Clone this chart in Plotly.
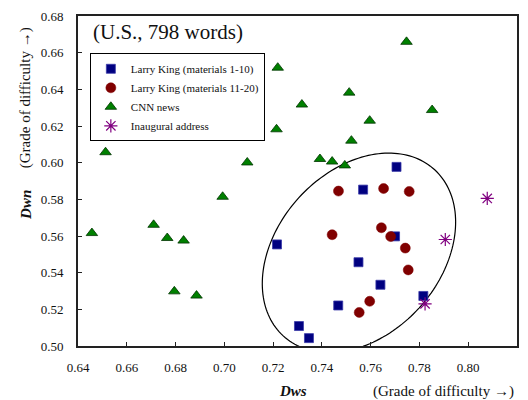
import numpy as np
import plotly.graph_objects as go

# ---------------- data ----------------
lk1_x = [0.7706, 0.7569, 0.7216, 0.7700, 0.7550, 0.7640, 0.7816, 0.7467, 0.7306, 0.7347]
lk1_y = [0.5977, 0.5853, 0.5554, 0.5598, 0.5457, 0.5334, 0.5273, 0.5221, 0.5109, 0.5043]

lk2_x = [0.7468, 0.7653, 0.7758, 0.7442, 0.7644, 0.7682, 0.7742, 0.7754, 0.7596, 0.7553]
lk2_y = [0.5845, 0.5859, 0.5843, 0.5607, 0.5645, 0.5597, 0.5534, 0.5415, 0.5244, 0.5183]

cnn_x = [0.6457, 0.6513, 0.6710, 0.6766, 0.6833, 0.6795, 0.6886, 0.6993, 0.7094, 0.7214,
         0.7219, 0.7747, 0.7512, 0.7318, 0.7852, 0.7596, 0.7521, 0.7392, 0.7442, 0.7494]
cnn_y = [0.5616, 0.6057, 0.5661, 0.5589, 0.5575, 0.5298, 0.5275, 0.5814, 0.6001, 0.6182,
         0.6518, 0.6659, 0.6382, 0.6317, 0.6287, 0.6229, 0.6120, 0.6020, 0.6006, 0.5985]

ina_x = [0.8078, 0.7906, 0.7823]
ina_y = [0.5805, 0.5581, 0.5230]

series_names = ["Larry King (materials 1-10)", "Larry King (materials 11-20)",
                "CNN news", "Inaugural address"]

x_ticks = [0.64, 0.66, 0.68, 0.70, 0.72, 0.74, 0.76, 0.78, 0.80, 0.82]
y_ticks = [0.50, 0.52, 0.54, 0.56, 0.58, 0.60, 0.62, 0.64, 0.66, 0.68]

# ellipse drawn around the Larry King group (data units)
ell_cx, ell_cy = 0.7552, 0.5508
ell_major = (0.0327, 0.0431)   # semi-major axis vector (dx, dy)
ell_minor = (-0.0224, 0.0332)  # semi-minor axis vector (dx, dy)

SERIF = "Liberation Serif"

fig = go.Figure()
fig.add_trace(go.Scatter(x=lk1_x, y=lk1_y, mode="markers", name=series_names[0],
                         marker=dict(symbol="square", size=9, color="#000080",
                                     line=dict(color="#3a3aa8", width=0.8))))
fig.add_trace(go.Scatter(x=lk2_x, y=lk2_y, mode="markers", name=series_names[1],
                         marker=dict(symbol="circle", size=10, color="#800000",
                                     line=dict(color="#800000", width=0.5))))
fig.add_trace(go.Scatter(x=cnn_x, y=cnn_y, mode="markers", name=series_names[2],
                         marker=dict(symbol="triangle-up", size=10, color="#008000",
                                     line=dict(color="#003300", width=0.8))))
fig.add_trace(go.Scatter(x=ina_x, y=ina_y, mode="markers", name=series_names[3],
                         marker=dict(symbol="asterisk-open", size=11, color="#800080",
                                     line=dict(color="#800080", width=1.2))))

t = np.linspace(0, 2 * np.pi, 181)
ex = ell_cx + ell_major[0] * np.cos(t) + ell_minor[0] * np.sin(t)
ey = ell_cy + ell_major[1] * np.cos(t) + ell_minor[1] * np.sin(t)
path = "M " + " L ".join(f"{a:.5f},{b:.5f}" for a, b in zip(ex, ey)) + " Z"
fig.add_shape(type="path", path=path, xref="x", yref="y",
              line=dict(color="black", width=1.2), layer="below")

axis_common = dict(showgrid=False, zeroline=False, ticks="inside", ticklen=4,
                   tickwidth=1, tickcolor="#222", showline=True, linewidth=2,
                   linecolor="#222", mirror=True,
                   tickfont=dict(family=SERIF, size=13, color="#111"))

fig.update_xaxes(range=[0.64, 0.82], tickvals=x_ticks,
                 ticktext=[f"{v:.2f}" for v in x_ticks], ticklabelstandoff=8,
                 **axis_common)
fig.update_yaxes(range=[0.50, 0.68], tickvals=y_ticks,
                 ticktext=[f"{v:.2f}" for v in y_ticks], ticklabelstandoff=10,
                 **axis_common)

fig.update_layout(
    width=528, height=400,
    margin=dict(l=78, r=9, t=12, b=54),
    paper_bgcolor="white", plot_bgcolor="white",
    font=dict(family=SERIF, color="#111"),
    showlegend=True,
    legend=dict(x=0.027, y=0.887, xanchor="left", yanchor="top",
                bgcolor="white", bordercolor="black", borderwidth=1,
                font=dict(family=SERIF, size=11, color="#111"),
                itemwidth=30, tracegroupgap=0),
    annotations=[
        dict(text="(U.S., 798 words)", xref="paper", yref="paper",
             x=0.03, y=0.995, xanchor="left", yanchor="top", showarrow=False,
             font=dict(family=SERIF, size=21, color="#111")),
        dict(text="<b><i>Dws</i></b>", xref="paper", yref="paper",
             x=(294 - 78) / 441, y=-0.137, xanchor="center", yanchor="middle",
             showarrow=False, font=dict(family=SERIF, size=15, color="#111")),
        dict(text="(Grade of difficulty →)", xref="paper", yref="paper",
             x=(518 - 78) / 441, y=-0.137, xanchor="right", yanchor="middle",
             showarrow=False, font=dict(family=SERIF, size=15, color="#111")),
        dict(text="<b><i>Dwn</i></b>", xref="paper", yref="paper",
             x=-(78 - 25) / 441, y=(346 - 203) / 334, xanchor="center", yanchor="middle",
             textangle=-90, showarrow=False, font=dict(family=SERIF, size=15, color="#111")),
        dict(text="(Grade of difficulty →)", xref="paper", yref="paper",
             x=-(78 - 25) / 441, y=(346 - 95) / 334, xanchor="center", yanchor="middle",
             textangle=-90, showarrow=False, font=dict(family=SERIF, size=15, color="#111")),
    ],
)

fig.write_html("out.html", config={"displayModeBar": False},
               post_script="document.body.style.margin='0';")
